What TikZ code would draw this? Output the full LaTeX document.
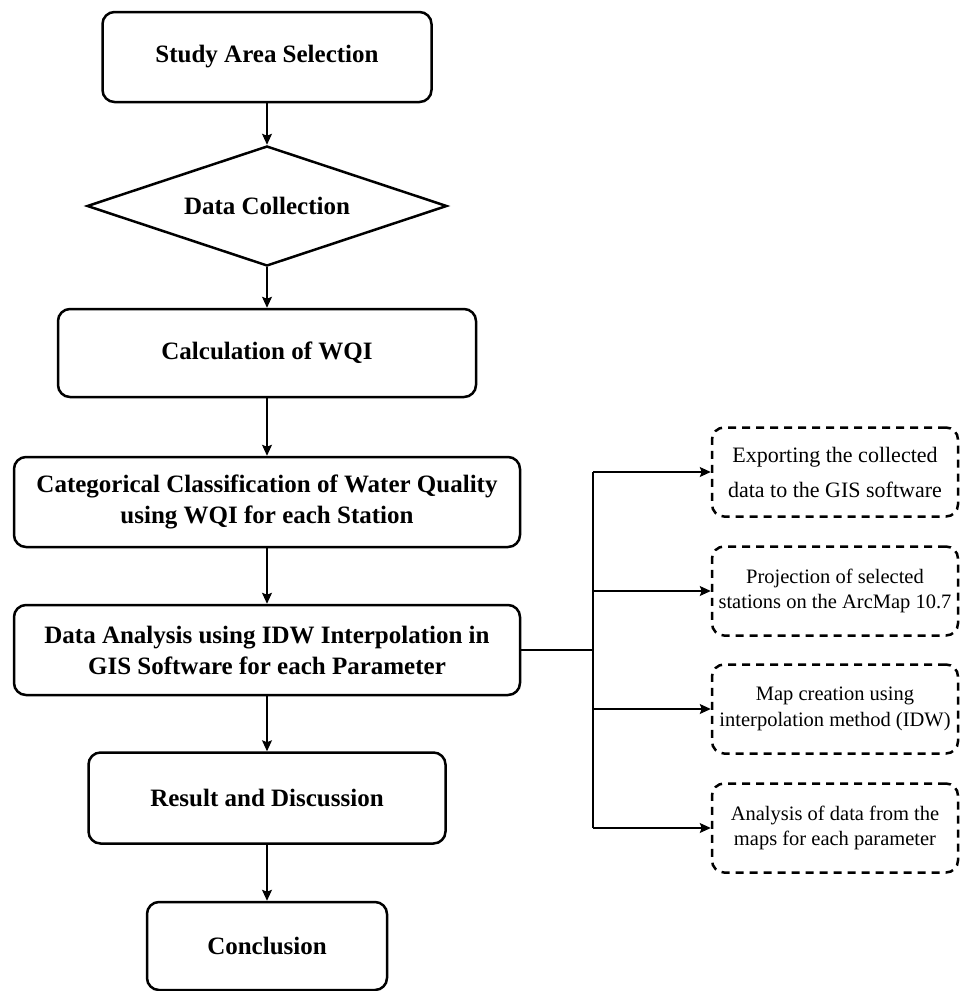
\documentclass[tikz,border=0pt]{standalone}
\usepackage{fontspec}
\setmainfont{Liberation Serif}
\usetikzlibrary{shapes.geometric,arrows.meta}
\begin{document}
\begin{tikzpicture}
      [
      x=1pt, y=-1pt,
      process/.style={rectangle,draw,line width=2.5pt,rounded corners=12pt,inner sep=0pt,align=center,font=\fontsize{25}{31}\selectfont\bfseries},
      decision/.style={diamond,draw,line width=2.5pt,aspect=3,inner sep=0pt,minimum width=360pt,minimum height=120pt,font=\fontsize{25}{31}\selectfont\bfseries},
      task/.style={rectangle,draw,line width=2.5pt,dash pattern=on 8pt off 6pt,rounded corners=12pt,inner sep=0pt,minimum width=246pt,minimum height=89pt,align=center,font=\fontsize{20.5}{25.5}\selectfont},
      flow/.style={-{Stealth[length=11pt,width=10pt,inset=2pt]},line width=1.2pt}
      ]
      \useasboundingbox (0,0) rectangle (960,991);
      \node (study) at (267,57) [process, minimum width=329pt, minimum height=90pt] {Study Area Selection};
      \node (collect) at (267,206) [decision] {Data Collection};
      \node (wqi) at (267,353) [process, minimum width=418pt, minimum height=88pt] {Calculation of WQI};
      \node (classify) at (267,502) [process, minimum width=506pt, minimum height=90pt] {Categorical Classification of Water Quality\\using WQI for each Station};
      \node (analysis) at (267,650) [process, minimum width=506pt, minimum height=90pt] {Data Analysis using IDW Interpolation in\\GIS Software for each Parameter};
      \node (result) at (267,798) [process, minimum width=357pt, minimum height=91pt] {Result and Discussion};
      \node (conclusion) at (267,946) [process, minimum width=240pt, minimum height=88pt] {Conclusion};
      \node (export) at (835,472) [task, font=\fontsize{22}{35}\selectfont] {Exporting the collected\\data to the GIS software};
      \node (project) at (835,591) [task] {Projection of selected\\stations on the ArcMap 10.7};
      \node (mapping) at (835,709) [task] {Map creation using\\interpolation method (IDW)};
      \node (mapdata) at (835,828) [task] {Analysis of data from the\\maps for each parameter};
      \coordinate (fork) at (593,650);
      \draw [flow] (study) -- (collect);
      \draw [flow] (collect) -- (wqi);
      \draw [flow] (wqi) -- (classify);
      \draw [flow] (classify) -- (analysis);
      \draw [flow] (analysis) -- (result);
      \draw [flow] (result) -- (conclusion);
      \draw [line width=1.2pt] (analysis) -- (fork);
      \draw [line width=1.2pt] (fork |- export) -- (fork |- mapdata);
      \draw [flow] (fork |- export) -- (export);
      \draw [flow] (fork |- project) -- (project);
      \draw [flow] (fork |- mapping) -- (mapping);
      \draw [flow] (fork |- mapdata) -- (mapdata);
    \end{tikzpicture}
\end{document}
